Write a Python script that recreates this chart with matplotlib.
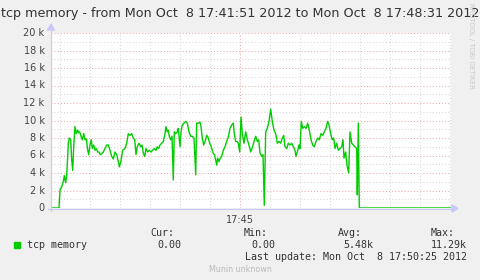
import matplotlib
matplotlib.use("Agg")
import matplotlib.pyplot as plt
from matplotlib.patches import Polygon, Rectangle
from matplotlib.lines import Line2D

W, H = 481, 280

# seconds since 17:41:51 and tcp memory in thousands
seconds = [0, 8, 9, 10.7, 12.3, 13.3, 14.7, 15.7, 16.7, 17.3, 18.3, 19.7, 20.7, 21.7,
           22.7, 24, 25.3, 26.7, 27.7, 28.7, 30, 31.3, 32.7, 34, 35.3, 36.7, 37.7, 39,
           40.3, 41.3, 42.7, 44, 45.3, 46.7, 48, 49.3, 50.7, 52.3, 54, 55.7, 57.3, 59,
           60.7, 62.3, 64, 65.7, 67.3, 68.3, 70, 71.7, 74, 75.7, 77.3, 79, 80.7, 82.3,
           83.7, 85, 86.3, 88, 89.7, 91, 92.3, 93.7, 95, 96.7, 98.3, 100, 101.7, 103.3,
           105, 106.3, 107.7, 109, 110.7, 112.3, 114, 115, 116.3, 117.3, 118.3, 119.7,
           121, 122.3, 123.3, 124.7, 126.3, 127.3, 129, 130, 131.3, 133, 134.7, 136.3,
           138, 139.7, 141.3, 143, 144.7, 145.7, 147.3, 149, 150, 151.3, 152.7, 154,
           155.7, 157, 158.7, 160.3, 162, 163.3, 164.7, 165.7, 166.7, 168, 169.3, 170.7,
           172.3, 174, 175.7, 177.3, 179, 180.7, 182.3, 183.3, 184.7, 186, 187.3, 188.7,
           190, 191.3, 193, 194.7, 196.3, 198, 199.7, 201.3, 203, 204.7, 206.3, 207.7,
           209, 210.7, 212, 213.3, 214.7, 216.3, 218, 219.7, 221.3, 223, 224.7, 226.3,
           228, 229.7, 231.3, 232.7, 234, 235.7, 237.3, 239, 240.7, 242.3, 244, 245,
           246.3, 248, 249, 250.3, 251.7, 253.3, 255, 256.7, 258.3, 260, 261.7, 263.3,
           265, 266.7, 268.3, 270, 271.7, 273.3, 275, 276.7, 278, 279.7, 281.3, 282.7,
           284, 285.7, 287.3, 289, 290.7, 292, 293, 294.7, 296, 297.7, 299, 300.7, 302.3,
           304, 305.7, 306.3, 307.3, 308.3, 309, 400]
memory_k = [0, 0, 2.1, 2.4, 3.0, 3.7, 2.9, 3.8, 5.9, 7.4, 8.0, 7.8, 5.5, 4.3,
            7.0, 9.3, 8.5, 8.9, 8.6, 8.7, 8.2, 7.8, 8.5, 7.8, 7.9, 6.6, 6.1, 7.2,
            7.8, 6.8, 7.2, 6.6, 6.8, 6.4, 6.4, 6.1, 6.2, 6.4, 6.8, 7.2, 7.2, 6.6,
            5.9, 5.6, 6.4, 6.1, 5.3, 4.7, 5.4, 6.6, 6.8, 7.4, 8.5, 8.3, 8.5, 8.0,
            7.8, 6.1, 7.0, 7.4, 7.0, 7.2, 6.3, 5.9, 6.8, 6.4, 6.6, 6.4, 6.6, 6.8,
            6.6, 7.0, 6.8, 7.2, 7.4, 7.6, 8.5, 9.3, 8.7, 8.9, 8.2, 7.8,
            8.2, 3.2, 8.7, 8.5, 8.7, 9.1, 7.0, 8.7, 9.5, 9.7, 9.9, 9.7,
            8.7, 8.2, 8.2, 8.0, 3.8, 9.7, 9.7, 9.8, 9.3, 8.0, 7.2, 7.6,
            8.3, 8.1, 7.4, 7.0, 6.3, 6.1, 5.5, 4.9, 5.7, 5.3, 5.7, 5.9,
            6.6, 7.0, 7.6, 8.1, 9.1, 9.5, 9.7, 8.5, 7.6, 7.6, 7.4, 6.4,
            10.4, 8.5, 7.4, 8.7, 7.8, 7.2, 6.4, 6.9, 7.6, 8.2, 7.6, 7.8,
            6.3, 5.9, 6.1, 0.3, 8.7, 9.1, 9.9, 11.29, 9.9, 8.9, 8.5, 7.4,
            7.6, 7.4, 8.0, 8.3, 7.0, 6.8, 7.4, 7.2, 7.4, 7.0, 6.6, 5.9,
            6.4, 7.2, 6.8, 9.9, 9.1, 9.3, 9.1, 9.7, 8.9, 7.8, 7.2, 7.0,
            7.6, 8.0, 7.8, 8.5, 8.3, 8.7, 9.1, 9.9, 9.5, 8.5, 7.8, 8.0,
            6.8, 7.4, 6.6, 6.8, 7.0, 7.8, 5.7, 6.4, 4.9, 4.0, 8.7, 7.4, 7.2,
            7.0, 6.8, 1.5, 9.7, 0.1, 0, 0]

y_ticks = [0, 2, 4, 6, 8, 10, 12, 14, 16, 18, 20]
y_labels = ["0", "2 k", "4 k", "6 k", "8 k", "10 k", "12 k", "14 k", "16 k", "18 k", "20 k"]
x_minor = [9 + 30 * i for i in range(14)]
x_major = [189]
x_labels = ["17:45"]

legend_name = "tcp memory"
stat_names = ["Cur:", "Min:", "Avg:", "Max:"]
stat_values = ["0.00", "0.00", "5.48k", "11.29k"]

BG = "#f0f0f0"
GREEN = "#00cc00"
AXIS = "#c8c8f8"
MINOR = "#d8d8d8"
MAJOR = "#eeaaaa"
TXT = "#333333"


def fx(x):
    return x / W


def fy(y):
    return 1 - y / H


fig = plt.figure(figsize=(W / 100, H / 100), dpi=100, facecolor=BG)
ax = fig.add_axes([fx(51), fy(208), fx(400), (208 - 33) / H])
ax.set_facecolor("white")
ax.set_xlim(0, 400)
ax.set_ylim(0, 20)
for s in ax.spines.values():
    s.set_visible(False)
ax.set_xticks([])
ax.set_yticks([])

# -------------------------------
# grid
# -------------------------------
dots = (0, (1, 2))
for v in range(1, 21):
    c = MAJOR if v % 2 == 0 else MINOR
    ax.axhline(v, color=c, lw=0.75, ls=dots, zorder=1)
for t in x_minor:
    c = MAJOR if t in x_major else MINOR
    ax.axvline(t, color=c, lw=0.75, ls=dots, zorder=1)

ax.plot(seconds, memory_k, color=GREEN, lw=1.0, zorder=3)

# -------------------------------
# axes with arrows
# -------------------------------
fig.add_artist(Line2D([fx(48), fx(453)], [fy(208.5), fy(208.5)], color=AXIS, lw=0.8))
fig.add_artist(Line2D([fx(51), fx(51)], [fy(211), fy(29)], color=AXIS, lw=0.8))
fig.add_artist(Polygon([(fx(452), fy(205)), (fx(458), fy(208.5)), (fx(452), fy(212))],
                       closed=True, color=AXIS, transform=fig.transFigure))
fig.add_artist(Polygon([(fx(47.5), fy(30)), (fx(51), fy(24)), (fx(54.5), fy(30))],
                       closed=True, color=AXIS, transform=fig.transFigure))

# tick labels
for v, lab in zip(y_ticks, y_labels):
    ax.text(-6.5, v, lab, ha="right", va="center", fontsize=7, color="#444444")
for t, lab in zip(x_major, x_labels):
    ax.text(t, -0.8, lab, ha="center", va="top", fontsize=7, color="#444444")

# -------------------------------
# texts
# -------------------------------
fig.text(fx(240), fy(13), "tcp memory - from Mon Oct  8 17:41:51 2012 to Mon Oct  8 17:48:31 2012",
         ha="center", va="center", fontsize=9.2, color=TXT)
fig.text(fx(471), fy(3), "RRDTOOL / TOBI OETIKER", rotation=270, ha="center", va="top",
         fontsize=4.9, color="#c8c8c8")

mono = "DejaVu Sans Mono"
fig.add_artist(Rectangle((fx(14), fy(247.5)), 6 / W, 6 / H, color=GREEN, transform=fig.transFigure))
fig.text(fx(27), fy(245), legend_name, ha="left", va="center", fontsize=7.2, family=mono, color=TXT)
for name, val, xs, xv in zip(stat_names, stat_values, [150, 244, 338, 431], [157, 251, 343, 431]):
    fig.text(fx(xs), fy(233.5), name, ha="left", va="center", fontsize=7.2, family=mono, color=TXT)
    fig.text(fx(xv), fy(245.5), val, ha="left", va="center", fontsize=7.2, family=mono, color=TXT)
fig.text(fx(245), fy(257.5), "Last update: Mon Oct  8 17:50:25 2012", ha="left", va="center",
         fontsize=7.2, family=mono, color=TXT)
fig.text(fx(240.5), fy(269), "Munin unknown", ha="center", va="center", fontsize=5.8, color="#bbbbbb")

fig.savefig("out.png", dpi=100, facecolor=BG)
